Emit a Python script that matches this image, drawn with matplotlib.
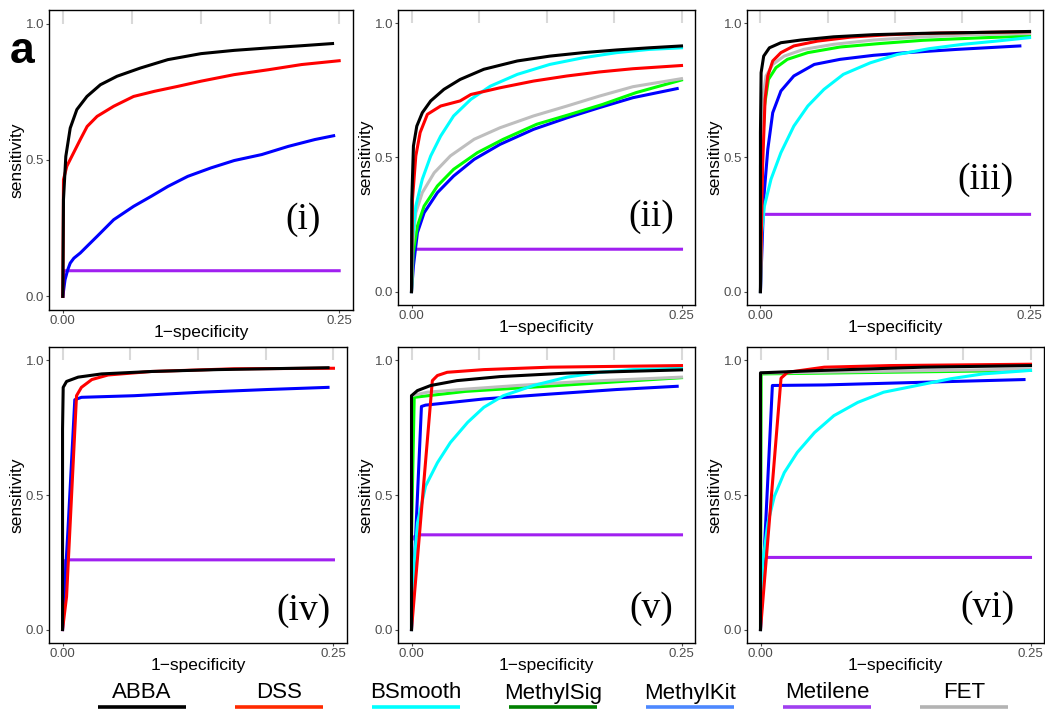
import matplotlib
matplotlib.use('Agg')
import matplotlib.pyplot as plt
from matplotlib.lines import Line2D

plt.rcParams['font.family'] = ['Liberation Sans', 'DejaVu Sans']

# methods, legend colours, colours used inside the panels
methods = ['ABBA', 'DSS', 'BSmooth', 'MethylSig', 'MethylKit', 'Metilene', 'FET']
legend_colors = ['#000000', '#FF2A00', '#00FFFF', '#008000', '#4D88FF', '#A040F0', '#B3B3B3']
line_colors = {'ABBA': '#000000', 'DSS': '#FF0000', 'BSmooth': '#00FFFF', 'MethylSig': '#00FF00',
               'MethylKit': '#0000FF', 'Metilene': '#A020F0', 'FET': '#BEBEBE'}
draw_order = ['Metilene', 'MethylKit', 'MethylSig', 'FET', 'BSmooth', 'DSS', 'ABBA']

x_ticks = [0.0, 0.25]
y_ticks = [0.0, 0.5, 1.0]
grid_x = [0.0, 0.0625, 0.125, 0.1875, 0.25]

# ---- panel (i) ----
i_abba_x = [0, 0.0006, 0.0027, 0.0067, 0.0127, 0.0218, 0.034, 0.049, 0.070, 0.095, 0.125, 0.155, 0.186, 0.216, 0.244]
i_abba_y = [0, 0.355, 0.513, 0.617, 0.685, 0.733, 0.776, 0.807, 0.837, 0.868, 0.890, 0.902, 0.911, 0.919, 0.927]
i_dss_x = [0, 0.0006, 0.0036, 0.0097, 0.0158, 0.022, 0.031, 0.046, 0.064, 0.083, 0.104, 0.125, 0.155, 0.186, 0.216, 0.25]
i_dss_y = [0, 0.428, 0.477, 0.526, 0.575, 0.623, 0.660, 0.697, 0.733, 0.752, 0.770, 0.789, 0.813, 0.831, 0.850, 0.864]
i_kit_x = [0, 0.002, 0.0045, 0.0067, 0.010, 0.0158, 0.023, 0.031, 0.046, 0.064, 0.080, 0.095, 0.113, 0.134, 0.155, 0.180, 0.204, 0.228, 0.245]
i_kit_y = [0, 0.061, 0.098, 0.122, 0.140, 0.159, 0.188, 0.220, 0.281, 0.330, 0.367, 0.403, 0.440, 0.471, 0.498, 0.520, 0.550, 0.575, 0.589]
i_met_x = [0, 0.0008, 0.25]
i_met_y = [0, 0.094, 0.094]

# ---- panel (ii) ----
ii_abba_x = [0, 0.0003, 0.0018, 0.0049, 0.010, 0.0178, 0.030, 0.045, 0.067, 0.098, 0.128, 0.159, 0.190, 0.220, 0.25]
ii_abba_y = [0, 0.344, 0.543, 0.617, 0.667, 0.711, 0.754, 0.791, 0.829, 0.860, 0.878, 0.891, 0.901, 0.909, 0.916]
ii_dss_x = [0, 0.0009, 0.004, 0.008, 0.0147, 0.027, 0.045, 0.055, 0.082, 0.113, 0.144, 0.174, 0.205, 0.25]
ii_dss_y = [0, 0.344, 0.506, 0.593, 0.661, 0.692, 0.711, 0.735, 0.760, 0.785, 0.804, 0.819, 0.831, 0.843]
ii_bs_x = [0, 0.0009, 0.004, 0.010, 0.0178, 0.027, 0.039, 0.055, 0.073, 0.098, 0.128, 0.159, 0.190, 0.220, 0.25]
ii_bs_y = [0, 0.195, 0.319, 0.419, 0.506, 0.580, 0.655, 0.717, 0.766, 0.810, 0.847, 0.872, 0.891, 0.903, 0.909]
ii_fet_x = [0, 0.0009, 0.004, 0.010, 0.021, 0.036, 0.058, 0.082, 0.113, 0.144, 0.174, 0.205, 0.25]
ii_fet_y = [0, 0.170, 0.294, 0.369, 0.443, 0.506, 0.568, 0.611, 0.655, 0.692, 0.729, 0.764, 0.794]
ii_sig_x = [0, 0.0015, 0.0055, 0.0117, 0.024, 0.039, 0.061, 0.085, 0.116, 0.147, 0.177, 0.208, 0.25]
ii_sig_y = [0, 0.145, 0.245, 0.319, 0.394, 0.456, 0.518, 0.568, 0.624, 0.661, 0.698, 0.742, 0.789]
ii_kit_x = [0, 0.0018, 0.0055, 0.0117, 0.024, 0.039, 0.058, 0.082, 0.113, 0.144, 0.174, 0.205, 0.246]
ii_kit_y = [0, 0.096, 0.220, 0.294, 0.369, 0.431, 0.493, 0.549, 0.605, 0.648, 0.686, 0.723, 0.757]
ii_met_x = [0, 0.0009, 0.25]
ii_met_y = [0, 0.158, 0.158]

# ---- panel (iii) ----
iii_abba_x = [0, 0, 0.0006, 0.003, 0.0083, 0.019, 0.0375, 0.068, 0.105, 0.151, 0.197, 0.25]
iii_abba_y = [0, 0.593, 0.816, 0.878, 0.909, 0.928, 0.938, 0.950, 0.958, 0.963, 0.966, 0.970]
iii_dss_x = [0, 0.002, 0.0043, 0.0068, 0.0114, 0.019, 0.031, 0.053, 0.084, 0.120, 0.166, 0.25]
iii_dss_y = [0, 0.468, 0.717, 0.804, 0.860, 0.891, 0.916, 0.934, 0.949, 0.958, 0.964, 0.969]
iii_fet_x = [0, 0, 0.002, 0.0052, 0.0114, 0.022, 0.040, 0.068, 0.105, 0.151, 0.197, 0.25]
iii_fet_y = [0, 0.468, 0.717, 0.804, 0.847, 0.878, 0.903, 0.922, 0.938, 0.950, 0.958, 0.962]
iii_sig_x = [0, 0.0012, 0.0037, 0.0074, 0.0144, 0.025, 0.044, 0.074, 0.111, 0.151, 0.197, 0.25]
iii_sig_y = [0, 0.468, 0.692, 0.791, 0.835, 0.866, 0.891, 0.912, 0.925, 0.937, 0.945, 0.953]
iii_kit_x = [0, 0.003, 0.0068, 0.0114, 0.019, 0.031, 0.050, 0.074, 0.105, 0.136, 0.182, 0.241]
iii_kit_y = [0, 0.344, 0.530, 0.667, 0.748, 0.804, 0.847, 0.866, 0.881, 0.891, 0.903, 0.916]
iii_bs_x = [0, 0.0012, 0.0037, 0.0098, 0.019, 0.031, 0.044, 0.059, 0.077, 0.102, 0.127, 0.157, 0.188, 0.219, 0.25]
iii_bs_y = [0, 0.220, 0.319, 0.419, 0.518, 0.617, 0.692, 0.754, 0.810, 0.853, 0.884, 0.906, 0.922, 0.934, 0.947]
iii_met_x = [0, 0.0006, 0.003, 0.25]
iii_met_y = [0, 0.270, 0.288, 0.288]

# ---- panel (iv) ----
iv_abba_x = [0, 0, 0.0006, 0.0037, 0.0144, 0.036, 0.082, 0.143, 0.245]
iv_abba_y = [0, 0.745, 0.900, 0.922, 0.938, 0.950, 0.959, 0.966, 0.973]
iv_dss_x = [0, 0.0037, 0.0129, 0.0174, 0.027, 0.042, 0.082, 0.158, 0.25]
iv_dss_y = [0, 0.122, 0.869, 0.900, 0.929, 0.946, 0.959, 0.969, 0.971]
iv_kit_x = [0, 0.0015, 0.005, 0.0113, 0.0174, 0.066, 0.128, 0.189, 0.245]
iv_kit_y = [0, 0.122, 0.371, 0.854, 0.863, 0.869, 0.882, 0.892, 0.900]
iv_met_x = [0, 0.0015, 0.005, 0.25]
iv_met_y = [0, 0.255, 0.259, 0.259]

# ---- panel (v) ----
v_abba_x = [0, 0, 0.0055, 0.0178, 0.042, 0.082, 0.144, 0.205, 0.25]
v_abba_y = [0, 0.869, 0.888, 0.907, 0.925, 0.940, 0.953, 0.960, 0.965]
v_dss_x = [0, 0.0193, 0.024, 0.033, 0.067, 0.128, 0.25]
v_dss_y = [0, 0.925, 0.944, 0.956, 0.966, 0.975, 0.981]
v_fet_x = [0, 0, 0, 0.0147, 0.052, 0.098, 0.159, 0.25]
v_fet_y = [0, 0.346, 0.869, 0.882, 0.894, 0.907, 0.922, 0.938]
v_sig_x = [0, 0, 0.0025, 0.05, 0.25]
v_sig_y = [0, 0.346, 0.863, 0.885, 0.936]
v_kit_x = [0, 0.0092, 0.013, 0.067, 0.128, 0.190, 0.246]
v_kit_y = [0, 0.829, 0.834, 0.857, 0.875, 0.892, 0.904]
v_bs_x = [0, 0.0025, 0.0055, 0.013, 0.024, 0.036, 0.052, 0.067, 0.085, 0.113, 0.144, 0.174, 0.205, 0.25]
v_bs_y = [0, 0.247, 0.396, 0.533, 0.620, 0.695, 0.770, 0.826, 0.869, 0.907, 0.938, 0.956, 0.966, 0.971]
v_met_x = [0, 0, 0.0025, 0.006, 0.25]
v_met_y = [0, 0.330, 0.345, 0.352, 0.352]

# ---- panel (vi) ----
vi_abba_x = [0, 0, 0.05, 0.15, 0.25]
vi_abba_y = [0, 0.954, 0.962, 0.975, 0.981]
vi_dss_x = [0, 0.019, 0.025, 0.059, 0.120, 0.25]
vi_dss_y = [0, 0.934, 0.956, 0.975, 0.981, 0.986]
vi_fet_x = [0, 0, 0.25]
vi_fet_y = [0, 0.953, 0.968]
vi_sig_x = [0, 0.0006, 0.25]
vi_sig_y = [0, 0.950, 0.963]
vi_kit_x = [0, 0.011, 0.059, 0.151, 0.244]
vi_kit_y = [0, 0.907, 0.909, 0.919, 0.929]
vi_bs_x = [0, 0.002, 0.0068, 0.0129, 0.022, 0.034, 0.050, 0.068, 0.090, 0.114, 0.145, 0.176, 0.206, 0.25]
vi_bs_y = [0, 0.247, 0.396, 0.496, 0.583, 0.658, 0.732, 0.795, 0.844, 0.882, 0.907, 0.932, 0.950, 0.963]
vi_met_x = [0, 0.0006, 0.003, 0.25]
vi_met_y = [0, 0.250, 0.268, 0.268]

panels = [
    ('(i)', {'ABBA': (i_abba_x, i_abba_y), 'DSS': (i_dss_x, i_dss_y),
             'MethylKit': (i_kit_x, i_kit_y), 'Metilene': (i_met_x, i_met_y)}),
    ('(ii)', {'ABBA': (ii_abba_x, ii_abba_y), 'DSS': (ii_dss_x, ii_dss_y), 'BSmooth': (ii_bs_x, ii_bs_y),
              'MethylSig': (ii_sig_x, ii_sig_y), 'MethylKit': (ii_kit_x, ii_kit_y),
              'Metilene': (ii_met_x, ii_met_y), 'FET': (ii_fet_x, ii_fet_y)}),
    ('(iii)', {'ABBA': (iii_abba_x, iii_abba_y), 'DSS': (iii_dss_x, iii_dss_y), 'BSmooth': (iii_bs_x, iii_bs_y),
               'MethylSig': (iii_sig_x, iii_sig_y), 'MethylKit': (iii_kit_x, iii_kit_y),
               'Metilene': (iii_met_x, iii_met_y), 'FET': (iii_fet_x, iii_fet_y)}),
    ('(iv)', {'ABBA': (iv_abba_x, iv_abba_y), 'DSS': (iv_dss_x, iv_dss_y),
              'MethylKit': (iv_kit_x, iv_kit_y), 'Metilene': (iv_met_x, iv_met_y)}),
    ('(v)', {'ABBA': (v_abba_x, v_abba_y), 'DSS': (v_dss_x, v_dss_y), 'BSmooth': (v_bs_x, v_bs_y),
             'MethylSig': (v_sig_x, v_sig_y), 'MethylKit': (v_kit_x, v_kit_y),
             'Metilene': (v_met_x, v_met_y), 'FET': (v_fet_x, v_fet_y)}),
    ('(vi)', {'ABBA': (vi_abba_x, vi_abba_y), 'DSS': (vi_dss_x, vi_dss_y), 'BSmooth': (vi_bs_x, vi_bs_y),
              'MethylSig': (vi_sig_x, vi_sig_y), 'MethylKit': (vi_kit_x, vi_kit_y),
              'Metilene': (vi_met_x, vi_met_y), 'FET': (vi_fet_x, vi_fet_y)}),
]

W, H = 1045, 719
fig = plt.figure(figsize=(W / 100, H / 100), dpi=100)

# axes boxes in pixels: left, top, right, bottom
boxes = [(49, 10, 353, 310), (398, 10, 695, 305), (747, 10, 1043, 305),
         (49, 347, 347, 643), (398, 347, 695, 643), (747, 347, 1044, 643)]
# where the roman numeral sits (data coords, right edge / vertical centre)
tag_pos = [(0.233, 0.28), (0.243, 0.28), (0.235, 0.418),
           (0.247, 0.071), (0.242, 0.079), (0.235, 0.082)]

for (tag, curves), (l, t, r, b), (tx, ty) in zip(panels, boxes, tag_pos):
    ax = fig.add_axes([l / W, 1 - b / H, (r - l) / W, (b - t) / H])
    ax.set_xlim(-0.0125, 0.2625)
    ax.set_ylim(-0.05, 1.05)
    # the grid only shows above 1.0 in the original
    ax.vlines(grid_x, 1.0, 1.05, colors='#D9D9D9', lw=1.5, zorder=1)
    for m in draw_order:
        if m in curves:
            xs, ys = curves[m]
            ax.plot(xs, ys, color=line_colors[m], lw=2.2, solid_joinstyle='round', zorder=2)
    ax.text(tx, ty, tag, ha='right', va='center', fontsize=27,
            family=['Liberation Serif', 'DejaVu Serif'])
    ax.set_xticks(x_ticks)
    ax.set_xticklabels(['0.00', '0.25'])
    ax.set_yticks(y_ticks)
    ax.set_yticklabels(['0.0', '0.5', '1.0'])
    ax.tick_params(labelsize=9.5, labelcolor='#4D4D4D', color='#4D4D4D', length=2, width=0.8, pad=1.5)
    for s in ax.spines.values():
        s.set_linewidth(1.0)
        s.set_color('black')
    ax.set_xlabel('1\u2212specificity', fontsize=12.5)
    ax.set_ylabel('sensitivity', fontsize=12.5)
    ax.xaxis.set_label_coords(0.5, -0.05)
    ax.yaxis.set_label_coords(-0.082, 0.5)

fig.text(10 / W, 1 - 63 / H, 'a', fontsize=32, fontweight='bold', ha='left', va='baseline')

# legend along the bottom: text over a thick coloured bar
for k, (name, col) in enumerate(zip(methods, legend_colors)):
    cx = 142 + 137 * k
    fig.text(cx / W, 1 - 693 / H, name, ha='center', va='center', fontsize=16)
    fig.add_artist(Line2D([(cx - 44) / W, (cx + 44) / W], [1 - 707 / H, 1 - 707 / H],
                          transform=fig.transFigure, color=col, lw=2.6, solid_capstyle='butt'))

fig.savefig('out.png', dpi=100)
